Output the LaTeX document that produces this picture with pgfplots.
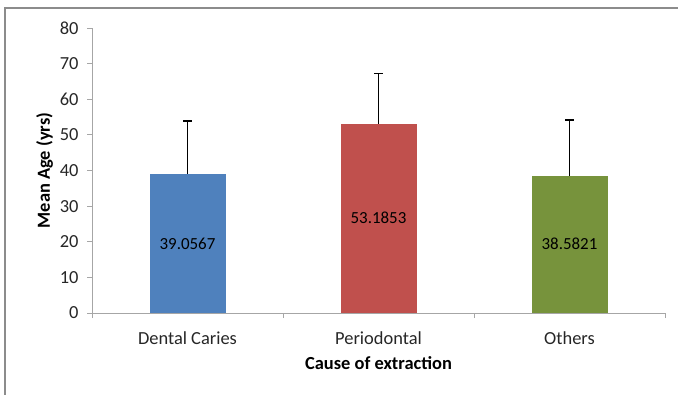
\documentclass[border=0pt]{standalone}
\usepackage{pgfplots}
\pgfplotsset{compat=1.18}
\usepackage{fontspec}
\setmainfont{Carlito}
\definecolor{cblue}{HTML}{4F81BD}
\definecolor{cred}{HTML}{C0504D}
\definecolor{cgreen}{HTML}{77933C}
\definecolor{axgray}{HTML}{A6A6A6}
\definecolor{frgray}{HTML}{8C8C8C}
\begin{document}
\begin{tikzpicture}[x=1bp,y=1bp]
\path[use as bounding box] (0,0) rectangle (678,394);
\begin{scope}
\clip (0,0) rectangle (678,394);
\draw[frgray, line width=1.6bp] (5,-5) -- (5,386) -- (690,386);
\end{scope}
\begin{axis}[
  at={(92bp,81bp)}, anchor=south west,
  scale only axis, width=573bp, height=285bp,
  xmin=-0.5, xmax=2.5, ymin=0, ymax=80,
  ytick={0,10,...,80},
  xtick={-0.5,0.5,1.5,2.5},
  xticklabels={},
  extra x ticks={0,1,2},
  extra x tick labels={Dental Caries,Periodontal,Others},
  extra x tick style={major tick length=0pt, tick label style={yshift=-15bp}},
  axis x line*=bottom, axis y line*=left,
  axis line style={axgray, line width=0.8bp, -},
  tick style={axgray, line width=0.8bp},
  major tick length=5bp,
  tick align=outside,
  xtick pos=bottom, ytick pos=left,
  ticklabel style={font=\fontsize{18.5}{22}\selectfont, text=black!85},
  yticklabel style={xshift=-5bp},
  /pgf/number format/assume math mode=true,
  xlabel={\textbf{Cause of extraction}},
  ylabel={\textbf{Mean Age (yrs)}},
  label style={font=\fontsize{18.5}{22}\selectfont},
  xlabel style={yshift=0bp},
  ylabel style={yshift=0bp},
  error bars/error bar style={black, line width=1.5bp},
  error bars/error mark options={black, line width=1.5bp, mark size=4.5bp, rotate=90},
]
\addplot[ybar, bar width=76bp, bar shift=0pt, fill=cblue, draw=none,
  error bars/.cd, y dir=plus, y explicit]
  coordinates {(0,39.0567) +- (0,14.9)};
\addplot[ybar, bar width=76bp, bar shift=0pt, fill=cred, draw=none,
  error bars/.cd, y dir=plus, y explicit]
  coordinates {(1,53.1853) +- (0,14.1)};
\addplot[ybar, bar width=76bp, bar shift=0pt, fill=cgreen, draw=none,
  error bars/.cd, y dir=plus, y explicit]
  coordinates {(2,38.5821) +- (0,15.6)};
\addplot[draw=none, nodes near coords, point meta=explicit symbolic,
  every node near coord/.append style={anchor=center, font=\fontsize{17}{20}\selectfont, text=black}]
  coordinates {(0,19.528)[39.0567] (1,26.593)[53.1853] (2,19.291)[38.5821]};
\end{axis}
\end{tikzpicture}
\end{document}
